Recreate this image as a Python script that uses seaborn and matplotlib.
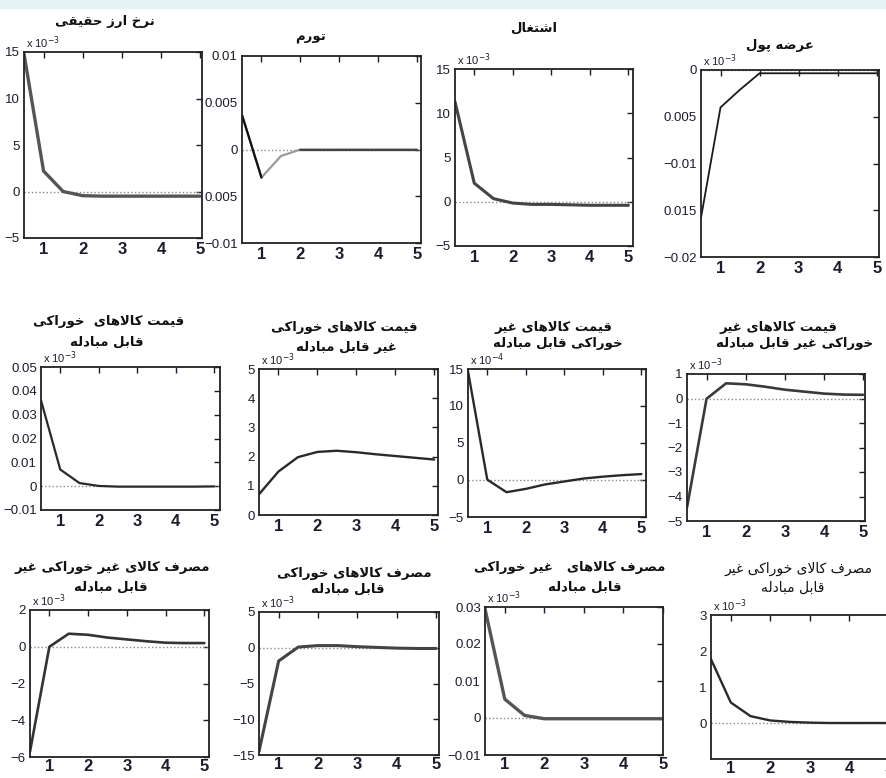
import matplotlib
matplotlib.use('Agg')
import matplotlib.pyplot as plt
import seaborn as sns

# horizon of the impulse responses
steps = [0.5, 1.0, 1.5, 2.0, 2.5, 3.0, 3.5, 4.0, 4.5, 5.0]

# responses, in the units of each panel's tick labels
real_exchange_rate = [14.8, 2.2, 0.0, -0.45, -0.5, -0.5, -0.5, -0.5, -0.5, -0.5]
inflation = [0.0037, -0.003, -0.0007, 0.0, 0.0, 0.0, 0.0, 0.0, 0.0, 0.0]
employment = [11.3, 2.1, 0.35, -0.15, -0.3, -0.3, -0.35, -0.4, -0.4, -0.4]
money_supply = [-0.0158, -0.0040, -0.0021, -0.00035, -0.00035, -0.00035,
                -0.00035, -0.00035, -0.00035, -0.00035]
p_food_traded = [0.036, 0.007, 0.0013, 0.0001, -0.0002, -0.0002, -0.0002,
                 -0.0002, -0.0002, -0.0001]
p_food_nontraded = [0.71, 1.49, 1.98, 2.16, 2.2, 2.15, 2.08, 2.02, 1.96, 1.9]
p_nonfood_traded = [14.7, 0.05, -1.65, -1.2, -0.6, -0.2, 0.2, 0.45, 0.65, 0.8]
p_nonfood_nontraded = [-4.45, -0.01, 0.62, 0.58, 0.48, 0.36, 0.28, 0.2, 0.16, 0.15]
c_nonfood_nontraded = [-5.7, 0.0, 0.71, 0.65, 0.5, 0.4, 0.3, 0.22, 0.2, 0.2]
c_food_traded = [-14.5, -1.85, 0.1, 0.3, 0.3, 0.15, 0.05, -0.05, -0.1, -0.1]
c_nonfood_traded = [0.0295, 0.0051, 0.0007, -0.0002, -0.0002, -0.0002,
                    -0.0002, -0.0002, -0.0002, -0.0002]
c_food_nontraded = [1.77, 0.57, 0.19, 0.07, 0.03, 0.01, 0.0, 0.0, 0.0, 0.0]

titles = [
    ['نرخ ارز حقیقی'],
    ['تورم'],
    ['اشتغال'],
    ['عرضه پول'],
    ['قیمت کالاهای  خوراکی', 'قابل مبادله'],
    ['قیمت کالاهای خوراکی', 'غیر قابل مبادله'],
    ['قیمت کالاهای غیر', 'خوراکی قابل مبادله'],
    ['قیمت کالاهای غیر', 'خوراکی غیر قابل مبادله'],
    ['مصرف کالای غیر خوراکی غیر', 'قابل مبادله'],
    ['مصرف کالاهای خوراکی', 'قابل مبادله'],
    ['مصرف کالاهای   غیر خوراکی', 'قابل مبادله'],
    ['مصرف کالای خوراکی غیر', 'قابل مبادله'],
]

yticks = [
    [-5, 0, 5, 10, 15],
    [-0.01, -0.005, 0, 0.005, 0.01],
    [-5, 0, 5, 10, 15],
    [-0.02, -0.015, -0.01, -0.005, 0],
    [-0.01, 0, 0.01, 0.02, 0.03, 0.04, 0.05],
    [0, 1, 2, 3, 4, 5],
    [-5, 0, 5, 10, 15],
    [-5, -4, -3, -2, -1, 0, 1],
    [-6, -4, -2, 0, 2],
    [-15, -10, -5, 0, 5],
    [-0.01, 0, 0.01, 0.02, 0.03],
    [-1, 0, 1, 2, 3],
]
ytick_labels = [
    ['−5', '0', '5', '10', '15'],
    ['−0.01', '0.005', '0', '0.005', '0.01'],
    ['−5', '0', '5', '10', '15'],
    ['−0.02', '0.015', '−0.01', '0.005', '0'],
    ['−0.01', '0', '0.01', '0.02', '0.03', '0.04', '0.05'],
    ['0', '1', '2', '3', '4', '5'],
    ['−5', '0', '5', '10', '15'],
    ['−5', '−4', '−3', '−2', '−1', '0', '1'],
    ['−6', '−4', '−2', '0', '2'],
    ['−15', '−10', '−5', '0', '5'],
    ['−0.01', '0', '0.01', '0.02', '0.03'],
    ['', '0', '1', '2', '3'],
]
multipliers = ['-3', None, '-3', '-3', '-3', '-3', '-4', '-3', '-3', '-3', '-3', '-3']

series = [real_exchange_rate, inflation, employment, money_supply,
          p_food_traded, p_food_nontraded, p_nonfood_traded, p_nonfood_nontraded,
          c_nonfood_nontraded, c_food_traded, c_nonfood_traded, c_food_nontraded]

# axes boxes in pixels: left, top, right, bottom ; x right limit
boxes = [
    (24, 52, 202, 238, 5.05), (242, 56, 421, 243, 5.1),
    (455, 69, 633, 246, 5.12), (701, 70, 879, 257, 5.06),
    (41, 367, 220, 510, 5.15), (259, 369, 438, 515, 5.1),
    (468, 369, 646, 517, 5.12), (687, 374, 865, 521, 5.05),
    (30, 610, 209, 757, 5.12), (259, 612, 439, 755, 5.08),
    (485, 607, 663, 755, 5.0), (711, 615, 893, 759, 5.1),
]
# title line centres in pixels
title_pos = [
    [(105, 21)], [(311, 38)], [(534, 28)], [(780, 45)],
    [(109, 321), (107, 342)], [(344, 328), (346, 348)],
    [(553, 328), (558, 344)], [(778, 328), (795, 344)],
    [(112, 567), (111, 587)], [(354, 573), (348, 589)],
    [(570, 567), (585, 587)], [(798, 569), (793, 588)],
]
line_styles = [
    ('#555555', 2.4), ('#2a2a2a', 1.6), ('#444444', 2.2), ('#1a1a1a', 1.3),
    ('#2a2a2a', 1.6), ('#2a2a2a', 1.7), ('#2a2a2a', 1.7), ('#3a3a3a', 1.9),
    ('#333333', 1.9), ('#444444', 2.2), ('#555555', 2.4), ('#2a2a2a', 1.7),
]

# contextual forms: isolated, final, initial, medial
LETTERS = {
    'ا': ('\ufe8d', '\ufe8e', None, None),
    'ب': ('\ufe8f', '\ufe90', '\ufe91', '\ufe92'),
    'پ': ('\ufb56', '\ufb57', '\ufb58', '\ufb59'),
    'ت': ('\ufe95', '\ufe96', '\ufe97', '\ufe98'),
    'ح': ('\ufea1', '\ufea2', '\ufea3', '\ufea4'),
    'خ': ('\ufea5', '\ufea6', '\ufea7', '\ufea8'),
    'د': ('\ufea9', '\ufeaa', None, None),
    'ر': ('\ufead', '\ufeae', None, None),
    'ز': ('\ufeaf', '\ufeb0', None, None),
    'ش': ('\ufeb5', '\ufeb6', '\ufeb7', '\ufeb8'),
    'ص': ('\ufeb9', '\ufeba', '\ufebb', '\ufebc'),
    'ض': ('\ufebd', '\ufebe', '\ufebf', '\ufec0'),
    'ع': ('\ufec9', '\ufeca', '\ufecb', '\ufecc'),
    'غ': ('\ufecd', '\ufece', '\ufecf', '\ufed0'),
    'ف': ('\ufed1', '\ufed2', '\ufed3', '\ufed4'),
    'ق': ('\ufed5', '\ufed6', '\ufed7', '\ufed8'),
    'ک': ('\ufb8e', '\ufb8f', '\ufb90', '\ufb91'),
    'ل': ('\ufedd', '\ufede', '\ufedf', '\ufee0'),
    'م': ('\ufee1', '\ufee2', '\ufee3', '\ufee4'),
    'ن': ('\ufee5', '\ufee6', '\ufee7', '\ufee8'),
    'ه': ('\ufee9', '\ufeea', '\ufeeb', '\ufeec'),
    'و': ('\ufeed', '\ufeee', None, None),
    'ی': ('\ufbfc', '\ufbfd', '\ufbfe', '\ufbff'),
}


def joins_next(c):
    return c in LETTERS and LETTERS[c][2] is not None


def farsi(text):
    # shape letters by hand and reverse, matplotlib has no bidi support
    chars = list(text)
    n = len(chars)
    out = []
    i = 0
    while i < n:
        c = chars[i]
        if c not in LETTERS:
            out.append(c)
            i += 1
            continue
        from_prev = i > 0 and joins_next(chars[i - 1])
        if c == 'ل' and i + 1 < n and chars[i + 1] == 'ا':
            out.append('\ufefc' if from_prev else '\ufefb')
            i += 2
            continue
        to_next = joins_next(c) and i + 1 < n and chars[i + 1] in LETTERS
        iso, fin, ini, med = LETTERS[c]
        if from_prev and to_next:
            out.append(med)
        elif from_prev:
            out.append(fin)
        elif to_next:
            out.append(ini)
        else:
            out.append(iso)
        i += 1
    return ''.join(reversed(out))


sns.set_style('white')
plt.rcParams['font.family'] = ['Liberation Sans', 'DejaVu Sans']

W, H = 886, 778
fig = plt.figure(figsize=(W / 100, H / 100), dpi=100)
fig.patches.append(plt.Rectangle((0, 1 - 8 / H), 1, 8 / H, transform=fig.transFigure,
                                 color='#e4f2f5', zorder=0))

for k in range(12):
    L, T, R, B, xr = boxes[k]
    ax = fig.add_axes([L / W, 1 - B / H, (R - L) / W, (B - T) / H])
    ax.axhline(0, color='#888888', ls=':', lw=1, zorder=1)
    color, lw = line_styles[k]
    if k == 1:
        sns.lineplot(x=steps, y=series[k], ax=ax, color='#9a9a9a', lw=lw)
        sns.lineplot(x=steps[:2], y=series[k][:2], ax=ax, color='#111111', lw=lw)
        sns.lineplot(x=steps[3:], y=series[k][3:], ax=ax, color='#444444', lw=lw)
    else:
        sns.lineplot(x=steps, y=series[k], ax=ax, color=color, lw=lw)
    ax.set_xlim(0.5, xr)
    ax.set_ylim(yticks[k][0], yticks[k][-1])
    ax.set_xticks([1, 2, 3, 4, 5])
    ax.set_xticklabels(['1', '2', '3', '4', '5'], fontsize=12, fontweight='bold')
    ax.set_yticks(yticks[k])
    ax.set_yticklabels(ytick_labels[k], fontsize=9.5, color='#1c1c2c')
    ax.tick_params(direction='in', top=True, right=True, length=4, width=1,
                   pad=3, colors='#1c1c2c')
    if k >= 8:
        ax.tick_params(axis='x', pad=1.5)
    for s in ax.spines.values():
        s.set_color('#222222')
        s.set_linewidth(1.3)
    if multipliers[k]:
        ax.text(0.01, 1.005, 'x 10$^{' + multipliers[k] + '}$', transform=ax.transAxes,
                fontsize=8, ha='left', va='bottom', color='#1c1c2c')
    for line, (cx, cy) in zip(titles[k], title_pos[k]):
        fig.text(cx / W, 1 - cy / H, farsi(line), family=['DejaVu Sans'],
                 fontsize=10 if k == 11 else 9.5,
                 fontweight='normal' if k == 11 else 'bold',
                 ha='center', va='center', color='#111111')

fig.savefig('out.png', dpi=100)
